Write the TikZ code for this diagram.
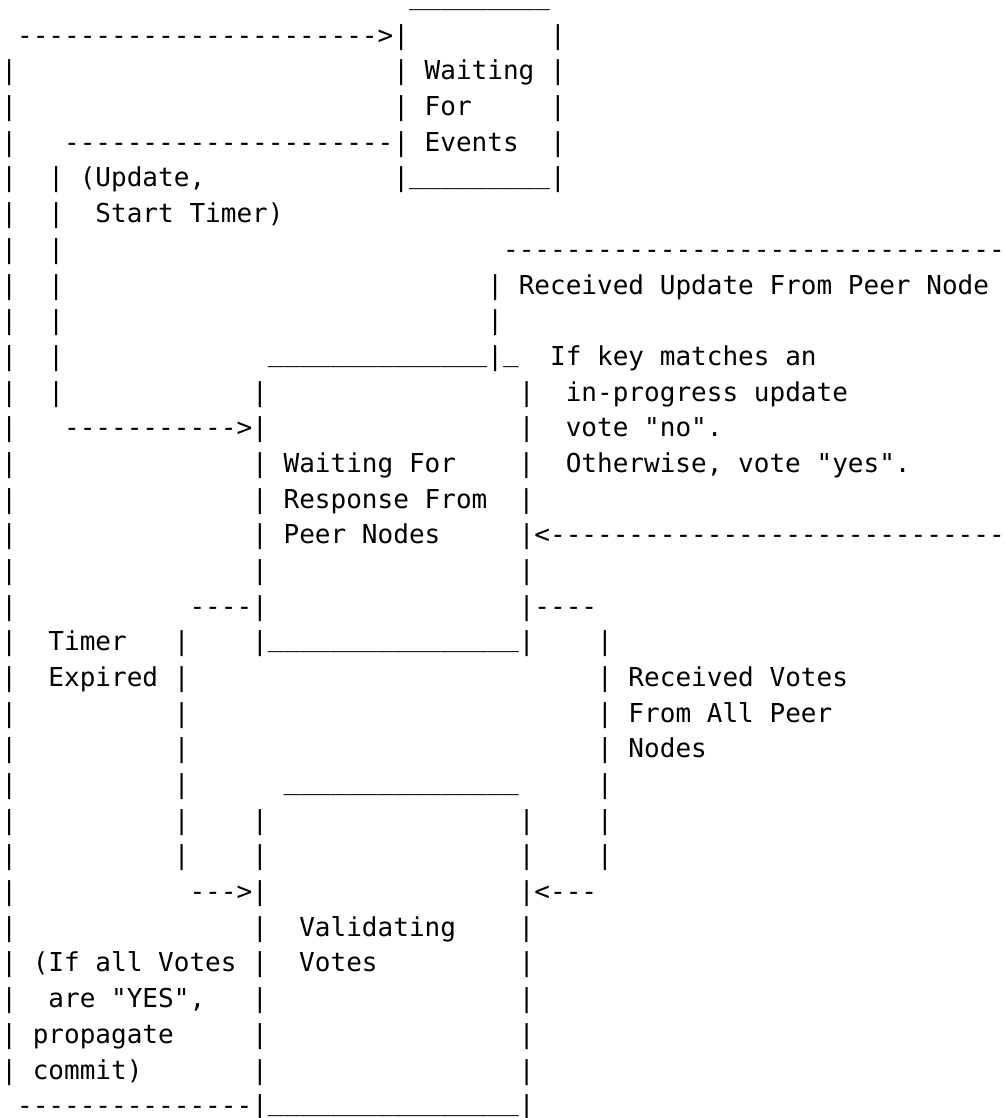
\documentclass[tikz,border=0pt]{standalone}
\usepackage{fontspec}
\newfontfamily\asciifont{DejaVu Sans Mono}
\ExplSyntaxOn
\newcommand\asciirep[2]{\prg_replicate:nn{#1}{#2}}
\ExplSyntaxOff
\newcommand\gap[1]{\hspace*{#1\dimexpr 0.60205em\relax}}
\newcommand\dashes[1]{\asciirep{#1}{-}}
\newcommand\unders[1]{\raisebox{0.15em}{\asciirep{#1}{\_}}}

\begin{document}
\begin{tikzpicture}[x=1pt,y=1pt,
  asciirow/.style={anchor=base west,inner sep=0,outer sep=0,
    font=\asciifont\fontsize{13.02}{17.84}\selectfont\frenchspacing}]
	\useasboundingbox (0,0) rectangle (502.5,-559);
	% waiting for events
	\node[asciirow] (row0) at (0.7,-4.30) {\gap{26}\unders{9}};
	\node[asciirow] (row1) at (0.7,-22.14) {\gap{1}\dashes{23}>|\gap{9}|};
	\node[asciirow] (row2) at (0.7,-39.98) {|\gap{24}| Waiting |};
	\node[asciirow] (row3) at (0.7,-57.82) {|\gap{24}| For\gap{5}|};
	\node[asciirow] (row4) at (0.7,-75.66) {|\gap{3}\dashes{21}| Events\gap{2}|};
	\node[asciirow] (row5) at (0.7,-93.50) {|\gap{2}| (Update,\gap{12}|\unders{9}|};
	\node[asciirow] (row6) at (0.7,-111.34) {|\gap{2}|\gap{2}Start Timer)};
	\node[asciirow] (row7) at (0.7,-129.18) {|\gap{2}|\gap{28}\dashes{32}};
	\node[asciirow] (row8) at (0.7,-147.02) {|\gap{2}|\gap{27}| Received Update From Peer Node};
	\node[asciirow] (row9) at (0.7,-164.86) {|\gap{2}|\gap{27}|};
	% waiting for response
	\node[asciirow] (row10) at (0.7,-182.70) {|\gap{2}|\gap{13}\unders{14}|\unders{1}\gap{2}If key matches an};
	\node[asciirow] (row11) at (0.7,-200.54) {|\gap{2}|\gap{12}|\gap{16}|\gap{2}in-progress update};
	\node[asciirow] (row12) at (0.7,-218.38) {|\gap{3}\dashes{11}>|\gap{16}|\gap{2}vote "no".};
	\node[asciirow] (row13) at (0.7,-236.22) {|\gap{15}| Waiting For\gap{4}|\gap{2}Otherwise, vote "yes".};
	\node[asciirow] (row14) at (0.7,-254.06) {|\gap{15}| Response From\gap{2}|};
	\node[asciirow] (row15) at (0.7,-271.90) {|\gap{15}| Peer Nodes\gap{5}|<\dashes{29}};
	\node[asciirow] (row16) at (0.7,-289.74) {|\gap{15}|\gap{16}|};
	\node[asciirow] (row17) at (0.7,-307.58) {|\gap{11}\dashes{4}|\gap{16}|\dashes{4}};
	\node[asciirow] (row18) at (0.7,-325.42) {|\gap{2}Timer\gap{3}|\gap{4}|\unders{16}|\gap{4}|};
	\node[asciirow] (row19) at (0.7,-343.26) {|\gap{2}Expired |\gap{26}| Received Votes};
	\node[asciirow] (row20) at (0.7,-361.10) {|\gap{10}|\gap{26}| From All Peer};
	\node[asciirow] (row21) at (0.7,-378.94) {|\gap{10}|\gap{26}| Nodes};
	% validating votes
	\node[asciirow] (row22) at (0.7,-396.78) {|\gap{10}|\gap{6}\unders{15}\gap{5}|};
	\node[asciirow] (row23) at (0.7,-414.62) {|\gap{10}|\gap{4}|\gap{16}|\gap{4}|};
	\node[asciirow] (row24) at (0.7,-432.46) {|\gap{10}|\gap{4}|\gap{16}|\gap{4}|};
	\node[asciirow] (row25) at (0.7,-450.30) {|\gap{11}\dashes{3}>|\gap{16}|<\dashes{3}};
	\node[asciirow] (row26) at (0.7,-468.14) {|\gap{15}|\gap{2}Validating\gap{4}|};
	\node[asciirow] (row27) at (0.7,-485.98) {| (If all Votes |\gap{2}Votes\gap{9}|};
	\node[asciirow] (row28) at (0.7,-503.82) {|\gap{2}are "YES",\gap{3}|\gap{16}|};
	\node[asciirow] (row29) at (0.7,-521.66) {| propagate\gap{5}|\gap{16}|};
	\node[asciirow] (row30) at (0.7,-539.50) {| commit)\gap{7}|\gap{16}|};
	\node[asciirow] (row31) at (0.7,-557.34) {\gap{1}\dashes{15}|\unders{16}|};
\end{tikzpicture}
\end{document}
